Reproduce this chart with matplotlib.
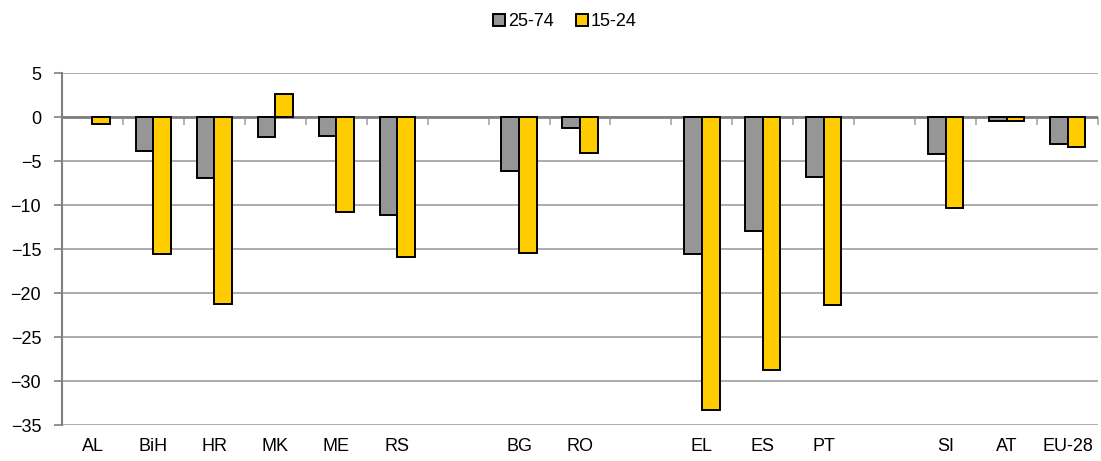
import numpy as np
import matplotlib.pyplot as plt

plt.rcParams['font.family'] = ['Liberation Sans', 'DejaVu Sans']

# empty strings mark the gaps between country groups
countries = ['AL', 'BiH', 'HR', 'MK', 'ME', 'RS', '', 'BG', 'RO', '',
             'EL', 'ES', 'PT', '', 'SI', 'AT', 'EU-28']
age_25_74 = [np.nan, -3.9, -6.9, -2.3, -2.2, -11.1, np.nan, -6.1, -1.2, np.nan,
             -15.6, -13.0, -6.8, np.nan, -4.2, -0.5, -3.1]
age_15_24 = [-0.75, -15.6, -21.2, 2.6, -10.8, -15.9, np.nan, -15.5, -4.1, np.nan,
             -33.3, -28.7, -21.4, np.nan, -10.3, -0.5, -3.4]

x = np.arange(len(countries))
w = 0.29

fig = plt.figure(figsize=(11.01, 4.61), dpi=100)
ax = fig.add_axes([62/1101, 1 - 425/461, (1098 - 62)/1101, (425 - 73)/461])

ax.bar(x - w/2, age_25_74, w, color='#969696', edgecolor='black', linewidth=1.4,
       label='25-74', zorder=3)
ax.bar(x + w/2, age_15_24, w, color='#FFCC00', edgecolor='black', linewidth=1.4,
       label='15-24', zorder=3)

ax.set_xlim(-0.5, len(countries) - 0.5)
ax.set_ylim(-35, 5)
ax.set_yticks(np.arange(-35, 6, 5))
ax.yaxis.grid(True, color='#a6a6a6', linewidth=1.3, zorder=0)
ax.set_axisbelow(True)

ax.set_xticks(x)
ax.set_xticklabels(countries, fontsize=13)
ax.tick_params(axis='x', length=0, pad=9)
ax.tick_params(axis='y', labelsize=13, length=6, color='#808080', width=1.2, pad=9)

for s in ['top', 'right', 'bottom']:
    ax.spines[s].set_visible(False)
ax.spines['left'].set_color('#808080')
ax.spines['left'].set_linewidth(1.5)

# category axis drawn along zero, with ticks between categories
ax.axhline(0, color='#808080', linewidth=2, zorder=2)
zero_axis = ax.secondary_xaxis(35/40)
zero_axis.set_xticks(np.arange(-0.5, len(countries), 1))
zero_axis.set_xticklabels([])
zero_axis.tick_params(axis='x', length=6, width=1.2, color='#a6a6a6',
                      direction='in', labelbottom=False, labeltop=False)
for s in zero_axis.spines.values():
    s.set_visible(False)

fig.legend(loc='center', bbox_to_anchor=(565/1101, 1 - 22/461), ncol=2,
           frameon=False, fontsize=13, handlelength=0.65, handleheight=0.65,
           handletextpad=0.2, columnspacing=1.2)

fig.savefig('out.png', dpi=100)
